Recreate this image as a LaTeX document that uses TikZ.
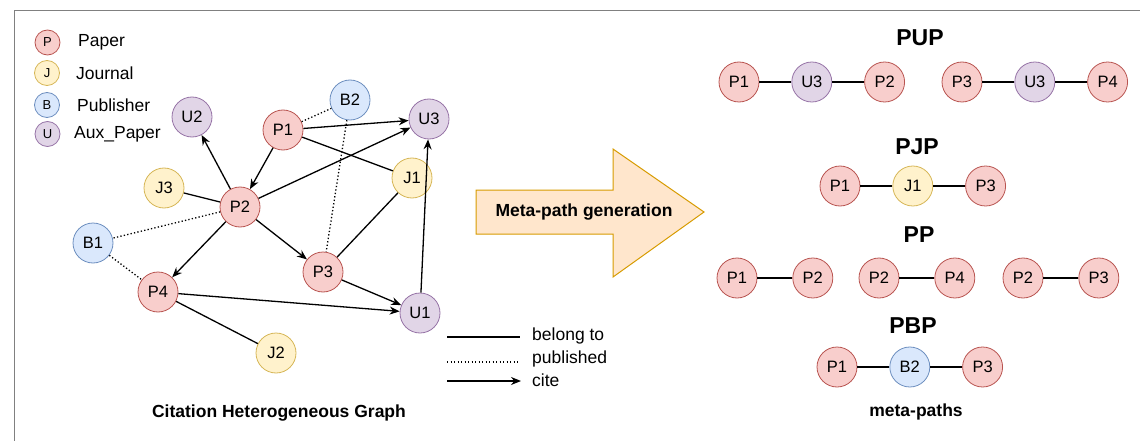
\documentclass[tikz,border=0pt]{standalone}
\usepackage{fontspec}
\setmainfont{Liberation Sans}
\usetikzlibrary{arrows,arrows.meta,positioning,calc}
\definecolor{pfill}{HTML}{F8CECC}\definecolor{pline}{HTML}{B85450}
\definecolor{jfill}{HTML}{FFF2CC}\definecolor{jline}{HTML}{D6B656}
\definecolor{bfill}{HTML}{DAE8FC}\definecolor{bline}{HTML}{6C8EBF}
\definecolor{ufill}{HTML}{E1D5E7}\definecolor{uline}{HTML}{9673A6}
\definecolor{genfill}{HTML}{FFE6CC}\definecolor{genline}{HTML}{D79B00}
\tikzstyle{vertex}=[draw,circle,minimum size=40pt,inner sep=0pt,line width=0.8pt,font=\fontsize{16.5}{16.5}\selectfont]
\tikzstyle{paper}=[vertex,fill=pfill,draw=pline]
\tikzstyle{journal}=[vertex,fill=jfill,draw=jline]
\tikzstyle{publisher}=[vertex,fill=bfill,draw=bline]
\tikzstyle{auxpaper}=[vertex,fill=ufill,draw=uline]
\tikzstyle{small}=[minimum size=25pt,font=\fontsize{13}{13}\selectfont]
\tikzstyle{legtext}=[anchor=west,inner sep=0pt,font=\fontsize{17.5}{17.5}\selectfont]
\tikzstyle{title}=[font=\bfseries\fontsize{23}{23}\selectfont]
\tikzstyle{caption}=[font=\bfseries\fontsize{17.5}{17.5}\selectfont]
\tikzstyle{cite}=[-{Stealth[length=10pt,width=8pt]},line width=1.3pt]
\tikzstyle{belong}=[line width=1.3pt]
\tikzstyle{pub}=[dash pattern=on 1.3pt off 2.2pt,line width=1.3pt]

\begin{document}
\begin{tikzpicture}[x=1pt,y=-1pt]
\useasboundingbox (0,0) rectangle (1140,441);
\draw[gray,line width=1pt] (14,441) -- (14,10.5) -- (1140,10.5);

% legend
\node [paper,small] (lp) at (47.5,42.5) {P};
\node [journal,small] (lj) at (47,73) {J};
\node [publisher,small] (lb) at (47,105) {B};
\node [auxpaper,small] (lu) at (47.5,134) {U};
\node [legtext] at (78,42.5) {Paper};
\node [legtext] at (76,73) {Journal};
\node [legtext] at (77,105) {Publisher};
\node [legtext] at (74,134) {Aux\_Paper};

% citation graph
\node [auxpaper] (U2) at (192,117) {U2};
\node [publisher] (B2) at (350,100) {B2};
\node [paper] (P1) at (283,130) {P1};
\node [auxpaper] (U3) at (429,119) {U3};
\node [journal] (J3) at (164,188) {J3};
\node [paper] (P2) at (240,207) {P2};
\node [journal] (J1) at (412,178) {J1};
\node [publisher] (B1) at (93,243) {B1};
\node [paper] (P3) at (323,272) {P3};
\node [paper] (P4) at (158,292) {P4};
\node [auxpaper] (U1) at (420,313) {U1};
\node [journal] (J2) at (276,353) {J2};

\draw [cite] (P1) -- (U3);
\draw [belong] (P1) -- (J1);
\draw [pub] (P1) -- (B2);
\draw [cite] (P1) -- (P2);
\draw [cite] (P2) -- (U2);
\draw [belong] (P2) -- (J3);
\draw [cite] (P2) -- (U3);
\draw [pub] (P2) -- (B1);
\draw [cite] (P2) -- (P4);
\draw [cite] (P2) -- (P3);
\draw [pub] (B2) -- (P3);
\draw [belong] (P3) -- (J1);
\draw [cite] (P3) -- (U1);
\draw [pub] (B1) -- (P4);
\draw [cite] (P4) -- (U1);
\draw [belong] (P4) -- (J2);
\draw [cite] (U1) -- (U3);

\node [caption] (cg) at (279,413) {Citation Heterogeneous Graph};

% edge legend
\coordinate (s1) at (447,337); \coordinate (e1) at (520,337);
\coordinate (s2) at (447,362); \coordinate (e2) at (520,362);
\coordinate (s3) at (447,381); \coordinate (e3) at (521,381);
\draw [belong] (s1) -- (e1);
\draw [pub] (s2) -- (e2);
\draw [cite] (s3) -- (e3);
\node [legtext] at (532,336) {belong to};
\node [legtext] at (532,359) {published};
\node [legtext] at (532,380) {cite};

% generation arrow
\draw [fill=genfill,draw=genline,line width=1pt] (476,190) -- (613,190) -- (613,149) -- (704,212)
  -- (613,277) -- (613,234) -- (476,234) -- cycle;
\node [caption] (gen) at (584,212) {Meta-path generation};

% meta-paths
\node [title] (t1) at (920,38) {PUP};
\node [paper] (a1) at (739,82) {P1};
\node [auxpaper,right=32pt of a1] (a2) {U3};
\node [paper,right=32pt of a2] (a3) {P2};
\node [paper] (a4) at (962,82) {P3};
\node [auxpaper,right=32pt of a4] (a5) {U3};
\node [paper,right=32pt of a5] (a6) {P4};
\draw [belong] (a1) -- (a2) -- (a3);
\draw [belong] (a4) -- (a5) -- (a6);

\node [title] (t2) at (917,147) {PJP};
\node [paper] (b1) at (840,186) {P1};
\node [journal,right=32pt of b1] (b2) {J1};
\node [paper,right=32pt of b2] (b3) {P3};
\draw [belong] (b1) -- (b2) -- (b3);

\node [title] (t3) at (919,235) {PP};
\node [paper] (c1) at (737,278) {P1};
\node [paper,right=35pt of c1] (c2) {P2};
\node [paper] (c3) at (879,278) {P2};
\node [paper,right=35pt of c3] (c4) {P4};
\node [paper] (c5) at (1023,278) {P2};
\node [paper,right=35pt of c5] (c6) {P3};
\draw [belong] (c1) -- (c2);
\draw [belong] (c3) -- (c4);
\draw [belong] (c5) -- (c6);

\node [title] (t4) at (913,326) {PBP};
\node [paper] (d1) at (837,367) {P1};
\node [publisher,right=32pt of d1] (d2) {B2};
\node [paper,right=32pt of d2] (d3) {P3};
\draw [belong] (d1) -- (d2) -- (d3);

\node [caption] (mp) at (916,412) {meta-paths};
\end{tikzpicture}
\end{document}
